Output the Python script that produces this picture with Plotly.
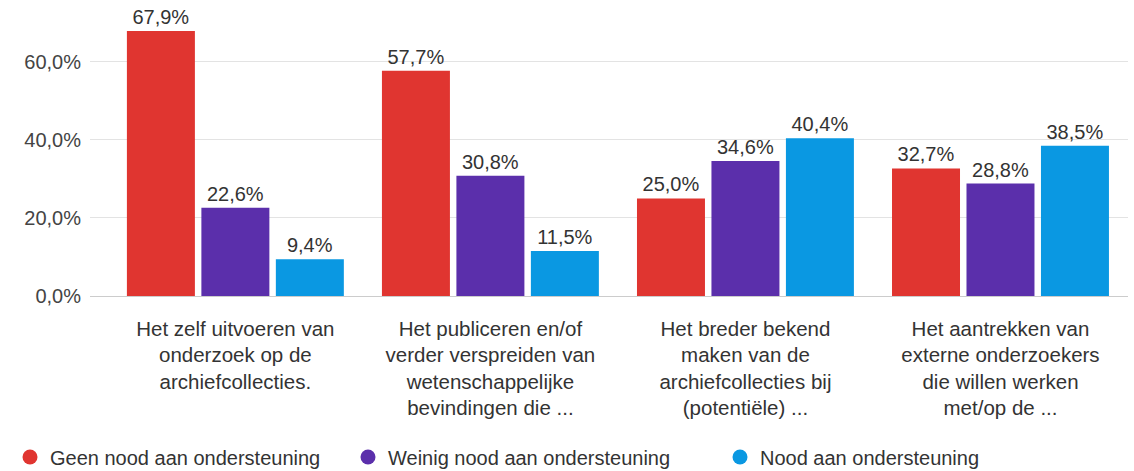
import plotly.graph_objects as go

categories = [
    "Het zelf uitvoeren van<br>onderzoek op de<br>archiefcollecties.",
    "Het publiceren en/of<br>verder verspreiden van<br>wetenschappelijke<br>bevindingen die ...",
    "Het breder bekend<br>maken van de<br>archiefcollecties bij<br>(potentiële) ...",
    "Het aantrekken van<br>externe onderzoekers<br>die willen werken<br>met/op de ...",
]
series_names = ["Geen nood aan ondersteuning", "Weinig nood aan ondersteuning", "Nood aan ondersteuning"]
geen = [67.9, 57.7, 25.0, 32.7]
weinig = [22.6, 30.8, 34.6, 28.8]
nood = [9.4, 11.5, 40.4, 38.5]
tick_vals = [0, 20, 40, 60]
tick_text = ["0,0%", "20,0%", "40,0%", "60,0%"]

colors = ["#e03530", "#5b2fab", "#0a98e2"]
FONT = "Liberation Sans, Arial, sans-serif"
W, H = 1134, 471
MT, MB = 15, 175
PLOT_H = H - MT - MB
legend_dot_x = [30, 368, 740]
legend_dot_y = 457

fig = go.Figure()
for name, vals, col in zip(series_names, [geen, weinig, nood], colors):
    fig.add_trace(go.Bar(
        x=list(range(len(categories))), y=vals, name=name,
        marker=dict(color=col, line=dict(width=0)),
        text=[f"{v:.1f}%".replace(".", ",") for v in vals],
        textposition="outside", cliponaxis=False, constraintext="none",
        textfont=dict(size=20, color="#333333", family=FONT),
        showlegend=False,
    ))
legend_ids = ["legend", "legend2", "legend3"]
for name, col, lid in zip(series_names, colors, legend_ids):
    fig.add_trace(go.Scatter(
        x=[None], y=[None], mode="markers", name=name,
        marker=dict(color=col, size=15, symbol="circle"),
        showlegend=True, legend=lid,
    ))

def leg(xpx):
    return dict(
        orientation="h", x=(xpx - 20) / W, xref="container", xanchor="left",
        y=-(legend_dot_y - (H - MB)) / PLOT_H, yref="paper", yanchor="middle",
        font=dict(size=20, color="#333333", family=FONT),
        bgcolor="rgba(0,0,0,0)", borderwidth=0,
    )

fig.update_layout(
    width=W, height=H,
    margin=dict(l=90, r=6, t=MT, b=MB, autoexpand=False),
    paper_bgcolor="white", plot_bgcolor="white",
    barmode="group", bargap=0.124, bargroupgap=0.087,
    font=dict(family=FONT, size=20, color="#444444"),
    xaxis=dict(
        tickvals=list(range(len(categories))), ticktext=categories,
        range=[-0.57, 3.5], showgrid=False, zeroline=False,
        showline=False, ticks="", tickangle=0, automargin=False,
        ticklabelstandoff=18,
        tickfont=dict(size=20.5, color="#333333"),
    ),
    yaxis=dict(
        range=[0, 72], tickvals=tick_vals, ticktext=tick_text,
        showgrid=True, gridcolor="#e3e3e3", gridwidth=1,
        zeroline=True, zerolinecolor="#cccccc", zerolinewidth=1,
        ticks="", ticklabelstandoff=8, automargin=False,
        tickfont=dict(size=20, color="#444444"),
    ),
    legend=leg(legend_dot_x[0]),
    legend2=leg(legend_dot_x[1]),
    legend3=leg(legend_dot_x[2]),
)
fig.write_html("out.html", config={"displayModeBar": False},
               post_script="document.body.style.margin='0';")
